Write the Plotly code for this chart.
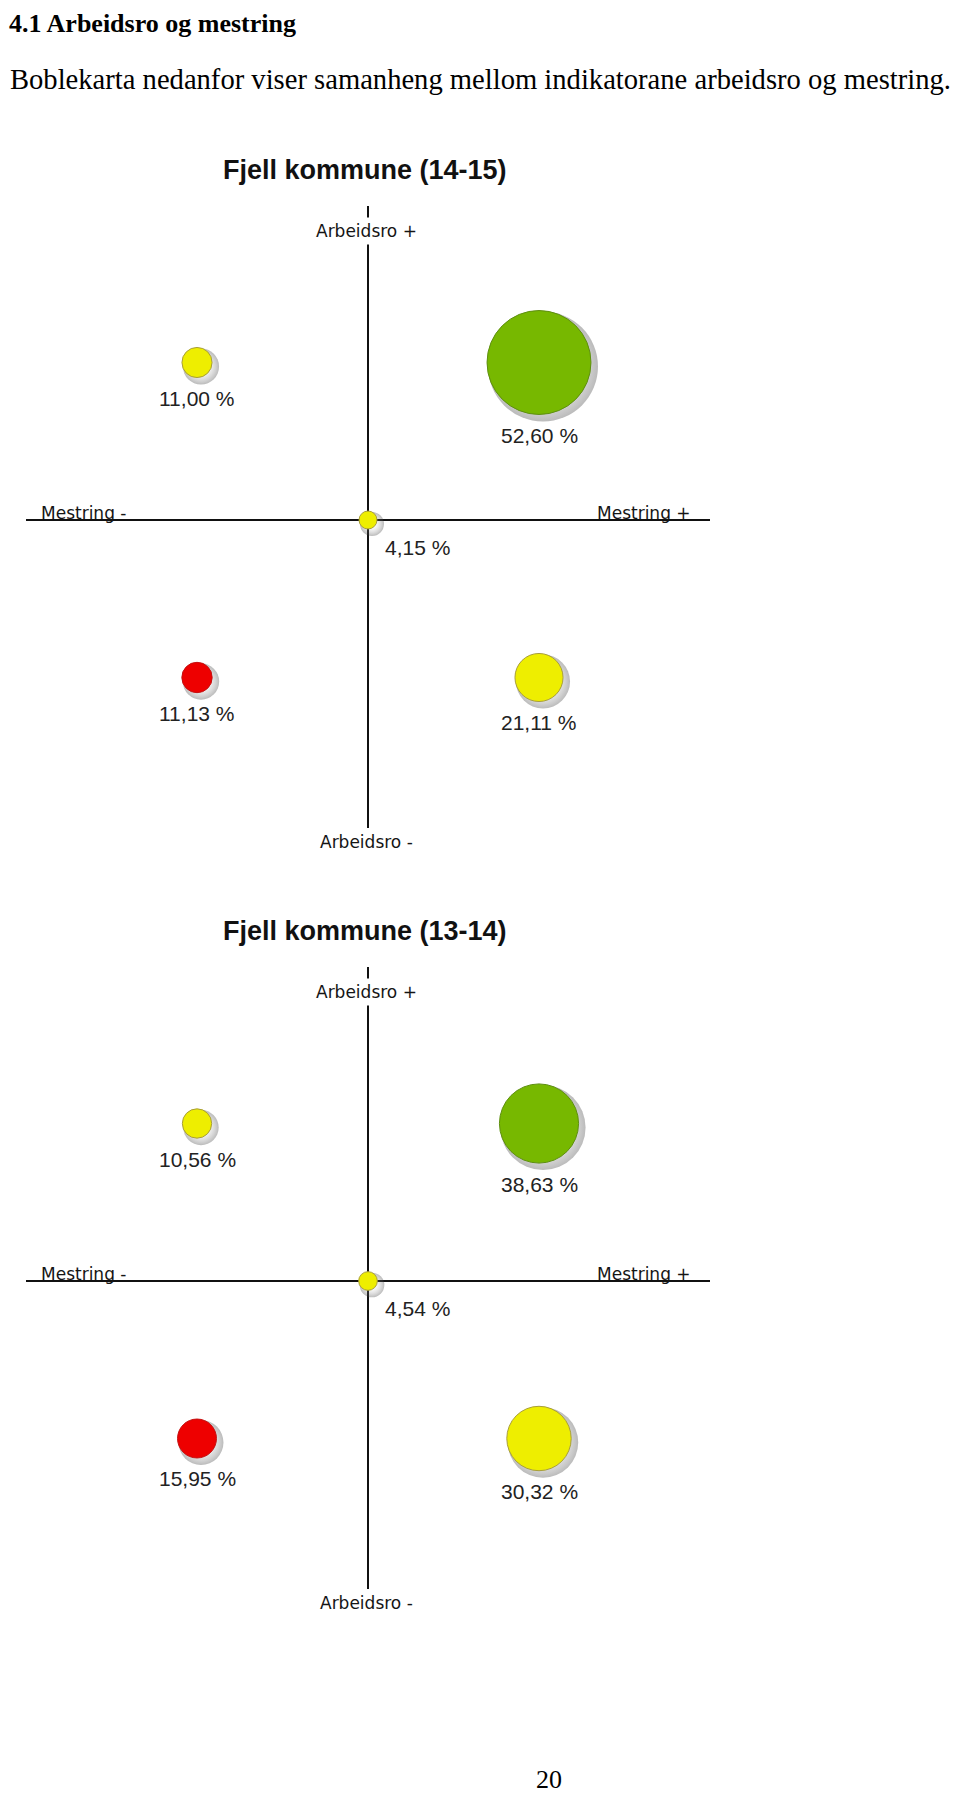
import plotly.graph_objects as go

# ---------------- data ----------------
heading = "4.1 Arbeidsro og mestring"
intro = "Boblekarta nedanfor viser samanheng mellom indikatorane arbeidsro og mestring."
page_no = "20"

titles = ["Fjell kommune (14-15)", "Fjell kommune (13-14)"]
mestring = [-1, 1, 0, -1, 1]      # position on the Mestring axis (- / 0 / +)
arbeidsro = [1, 1, 0, -1, -1]     # position on the Arbeidsro axis (- / 0 / +)
groups = ["yellow", "green", "yellow", "red", "yellow"]
values_1415 = [11.00, 52.60, 4.15, 11.13, 21.11]
values_1314 = [10.56, 38.63, 4.54, 15.95, 30.32]
axis_labels = ["Mestring -", "Mestring +", "Arbeidsro +", "Arbeidsro -"]

# ---------------- style ----------------
OFF = 8                       # page body margin in the browser
W, H = 960 - OFF, 1794 - OFF  # figure size
FILL = {"yellow": "#eeee00", "green": "#77b800", "red": "#ee0000"}
EDGE = {"yellow": "#a89e3a", "green": "#5e8f10", "red": "#c41010"}
LABEL_FONT = dict(family="Liberation Sans Narrow, Arial Narrow, Liberation Sans, Arial", size=21, color="#222222")
AXLAB_FONT = dict(family="DejaVu Sans", size=17, color="#151515")
SERIF = "Liberation Serif, Times New Roman, serif"

CHART_DY = 761
X0, X1, XC = 26, 710, 368
Y_TOP, Y_BOT, YC = 206, 828, 520
XS = (X1 - XC) / 2.0          # px per unit
YS = 157.5


def px_x(px):
    return (px - OFF) / W


def px_y(py):
    return 1 - (py - OFF) / H


def size_of(v):
    return 10.6 + 1.775 * v


def fmt(v):
    return f"{v:.2f}".replace(".", ",") + " %"


fig = go.Figure()
annotations = []

for k, (title, vals) in enumerate(zip(titles, [values_1415, values_1314])):
    dy = CHART_DY * k
    xa = "x" if k == 0 else f"x{k+1}"
    ya = "y" if k == 0 else f"y{k+1}"
    xkey = "xaxis" if k == 0 else f"xaxis{k+1}"
    ykey = "yaxis" if k == 0 else f"yaxis{k+1}"
    sizes = [size_of(v) for v in vals]

    # shadows
    fig.add_trace(go.Scatter(
        x=[m + 4 / XS for m in mestring], y=[a - 4 / YS for a in arbeidsro],
        mode="markers", xaxis=xa, yaxis=ya, hoverinfo="skip", showlegend=False,
        marker=dict(size=[s + 6 for s in sizes], color="rgba(60,60,60,0.5)",
                    gradient=dict(type="radial", color="rgba(255,255,255,0)"),
                    line=dict(width=0))))
    # bubbles
    fig.add_trace(go.Scatter(
        x=mestring, y=arbeidsro, mode="markers", xaxis=xa, yaxis=ya,
        showlegend=False, text=[fmt(v) for v in vals], hoverinfo="text",
        marker=dict(size=sizes, color=[FILL[g] for g in groups],
                    line=dict(width=1, color=[EDGE[g] for g in groups]), opacity=1)))

    fig.layout[xkey] = dict(domain=[px_x(X0), px_x(X1)], range=[-(XC - X0) / XS, (X1 - XC) / XS],
                            anchor=ya, showgrid=False, showticklabels=False, ticks="",
                            zeroline=True, zerolinecolor="#111111", zerolinewidth=2,
                            showline=False, fixedrange=True)
    fig.layout[ykey] = dict(domain=[px_y(Y_BOT + dy), px_y(Y_TOP + dy)],
                            range=[-(Y_BOT - YC) / YS, (YC - Y_TOP) / YS],
                            anchor=xa, showgrid=False, showticklabels=False, ticks="",
                            zeroline=True, zerolinecolor="#111111", zerolinewidth=2,
                            showline=False, fixedrange=True)

    # value labels
    for m, a, v, s in zip(mestring, arbeidsro, vals, sizes):
        if m == 0 and a == 0:
            annotations.append(dict(x=m, y=a, xref=xa, yref=ya, text=fmt(v), showarrow=False,
                                    xanchor="left", yanchor="middle", xshift=15, yshift=-27,
                                    font=LABEL_FONT))
        else:
            annotations.append(dict(x=m, y=a, xref=xa, yref=ya, text=fmt(v), showarrow=False,
                                    xanchor="center", yanchor="middle", yshift=-(s / 2 + 21),
                                    font=LABEL_FONT))

    # chart title
    annotations.append(dict(x=px_x(365), y=px_y(170 + dy), xref="paper", yref="paper",
                            text=f"<b>{title}</b>", showarrow=False, xanchor="center", yanchor="middle",
                            font=dict(family="Liberation Sans, Arial", size=27, color="#111111")))
    # axis end labels
    annotations.append(dict(x=px_x(40), y=px_y(524 + dy), xref="paper", yref="paper",
                            text=axis_labels[0], showarrow=False, xanchor="left", yanchor="bottom",
                            borderpad=0, font=AXLAB_FONT))
    annotations.append(dict(x=px_x(692), y=px_y(524 + dy), xref="paper", yref="paper",
                            text=axis_labels[1], showarrow=False, xanchor="right", yanchor="bottom",
                            borderpad=0, font=AXLAB_FONT))
    annotations.append(dict(x=px_x(366), y=px_y(231 + dy), xref="paper", yref="paper",
                            text=axis_labels[2], showarrow=False, xanchor="center", yanchor="middle",
                            bgcolor="white", borderpad=3, font=AXLAB_FONT))
    annotations.append(dict(x=px_x(366), y=px_y(842 + dy), xref="paper", yref="paper",
                            text=axis_labels[3], showarrow=False, xanchor="center", yanchor="middle",
                            font=AXLAB_FONT))

# page text
annotations.append(dict(x=px_x(8), y=px_y(8), xref="paper", yref="paper", text=f"<b>{heading}</b>",
                        showarrow=False, xanchor="left", yanchor="top", borderpad=0,
                        font=dict(family=SERIF, size=26, color="black")))
annotations.append(dict(x=px_x(8), y=px_y(80), xref="paper", yref="paper", text=intro,
                        showarrow=False, xanchor="left", yanchor="middle",
                        font=dict(family=SERIF, size=28.6, color="black")))
annotations.append(dict(x=px_x(549), y=px_y(1779), xref="paper", yref="paper", text=page_no,
                        showarrow=False, xanchor="center", yanchor="middle",
                        font=dict(family=SERIF, size=26, color="black")))

fig.update_layout(width=W, height=H, margin=dict(l=0, r=0, t=0, b=0),
                  paper_bgcolor="white", plot_bgcolor="white",
                  annotations=annotations, showlegend=False)

fig.write_html("out.html")
